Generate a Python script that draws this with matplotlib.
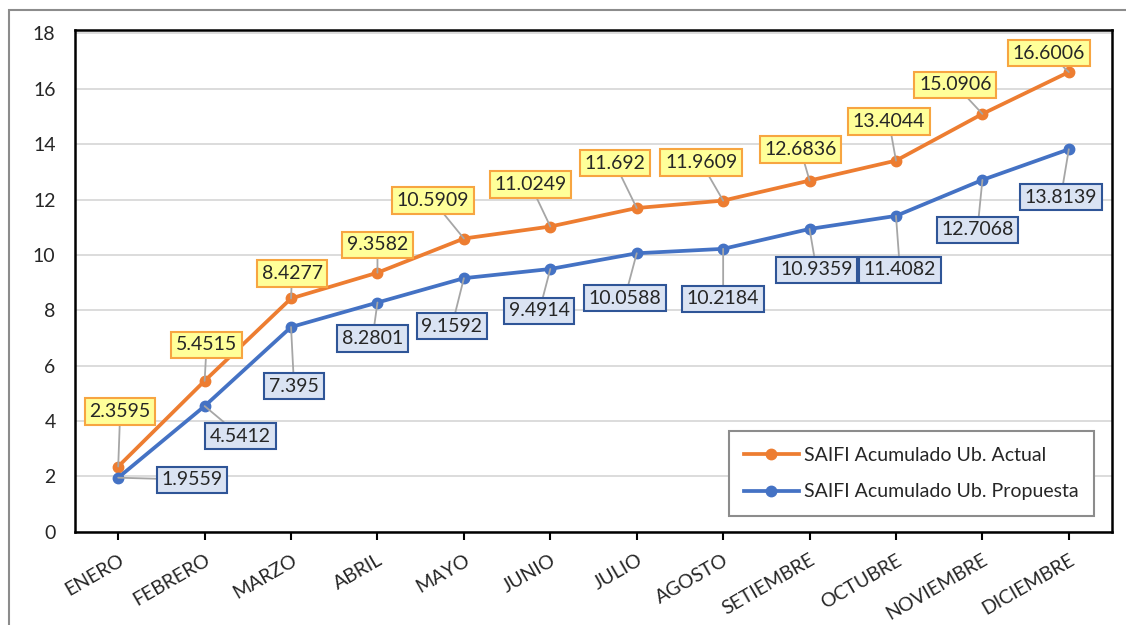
"""SAIFI acumulado: ubicacion actual vs propuesta."""

import matplotlib
matplotlib.use("Agg")
import matplotlib.pyplot as plt
from matplotlib.patches import Rectangle

# data
meses = ["ENERO", "FEBRERO", "MARZO", "ABRIL", "MAYO", "JUNIO", "JULIO",
         "AGOSTO", "SETIEMBRE", "OCTUBRE", "NOVIEMBRE", "DICIEMBRE"]
saifi_actual = [2.3595, 5.4515, 8.4277, 9.3582, 10.5909, 11.0249, 11.692,
                11.9609, 12.6836, 13.4044, 15.0906, 16.6006]
saifi_propuesta = [1.9559, 4.5412, 7.395, 8.2801, 9.1592, 9.4914, 10.0588,
                   10.2184, 10.9359, 11.4082, 12.7068, 13.8139]

# label offsets (pixels) from each point
off_actual = [(2, 55), (2, 36), (1, 25), (0, 28), (-31, 38), (-20, 42),
              (-22, 45), (-22, 38), (-9, 31), (-7, 39), (-27, 29), (-20, 19)]
off_propuesta = [(74, -2), (36, -30), (3, -59), (-5, -36), (-12, -48),
                 (-11, -42), (-12, -45), (0, -50), (7, -41), (4, -54),
                 (-5, -50), (-8, -48)]

orange = "#ED7D31"
blue = "#4472C4"

plt.rcParams["font.family"] = ["Lato", "DejaVu Sans"]

fig = plt.figure(figsize=(11.26, 6.25), dpi=100)
ax = fig.add_axes([0.0666, 0.149, 0.921, 0.803])

# outer frame
fig.patches.append(Rectangle((9 / 1126, -0.01), 1.02, 1 - 10 / 625 + 0.01,
                             transform=fig.transFigure, fill=False,
                             edgecolor="#8C8C8C", linewidth=1.5))

x = list(range(len(meses)))
ax.plot(x, saifi_actual, color=orange, lw=2.7, marker="o", ms=7.5,
        label="SAIFI Acumulado Ub. Actual", zorder=3)
ax.plot(x, saifi_propuesta, color=blue, lw=2.7, marker="o", ms=7.5,
        label="SAIFI Acumulado Ub. Propuesta", zorder=3)

for i in x:
    ax.annotate(f"{saifi_actual[i]:g}", (i, saifi_actual[i]),
                xytext=off_actual[i], textcoords="offset pixels",
                ha="center", va="center", fontsize=14, color="#262626",
                bbox=dict(boxstyle="square,pad=0.24", fc="#FFFF99",
                          ec="#F7A541", lw=1.5),
                arrowprops=dict(arrowstyle="-", color="#A6A6A6", lw=1.3,
                                shrinkA=0, shrinkB=0), zorder=4)
    ax.annotate(f"{saifi_propuesta[i]:g}", (i, saifi_propuesta[i]),
                xytext=off_propuesta[i], textcoords="offset pixels",
                ha="center", va="center", fontsize=14, color="#262626",
                bbox=dict(boxstyle="square,pad=0.24", fc="#DAE3F3",
                          ec="#2F5597", lw=1.5),
                arrowprops=dict(arrowstyle="-", color="#A6A6A6", lw=1.3,
                                shrinkA=0, shrinkB=0), zorder=4)

ax.set_xlim(-0.5, 11.5)
ax.set_ylim(0, 18.12)
ax.set_yticks(range(0, 19, 2))
ax.set_xticks(x)
ax.set_xticklabels(meses, rotation=30, ha="right", rotation_mode="anchor")
ax.tick_params(axis="y", length=0, labelsize=14, pad=14, colors="#262626")
ax.tick_params(axis="x", length=6, width=1.5, labelsize=14, pad=8,
               colors="black", labelcolor="#262626")
ax.grid(axis="y", color="#D9D9D9", lw=1.3)
ax.set_axisbelow(True)
for s in ax.spines.values():
    s.set_linewidth(1.8)
    s.set_color("black")

leg = ax.legend(loc="lower right", bbox_to_anchor=(0.988, 0.02),
                fontsize=14, fancybox=False, framealpha=1,
                edgecolor="#8C8C8C", borderpad=0.8, labelspacing=1.0,
                handlelength=2.8, handletextpad=0.25, borderaxespad=0.3)
leg.get_frame().set_linewidth(1.5)
for t in leg.get_texts():
    t.set_color("#262626")

fig.savefig("out.png", dpi=100)
